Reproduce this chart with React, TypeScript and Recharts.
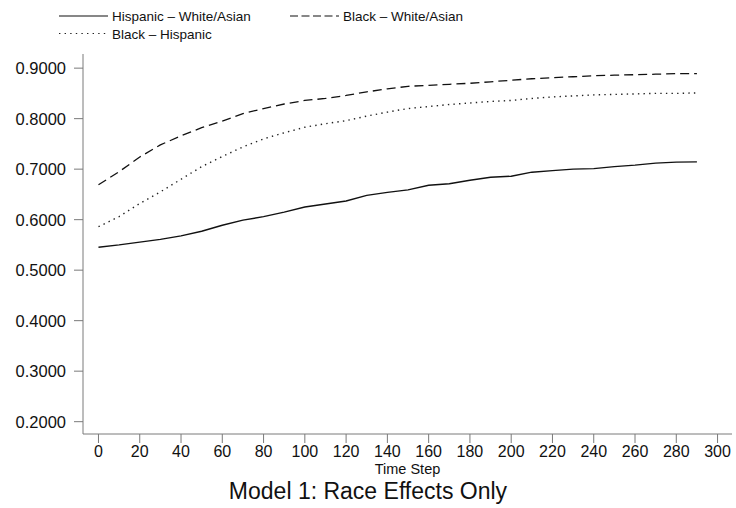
import { CartesianGrid, Line, LineChart, XAxis, YAxis } from "recharts";

const steps = [0, 10, 20, 30, 40, 50, 60, 70, 80, 90, 100, 110, 120, 130, 140, 150, 160, 170, 180, 190, 200, 210, 220, 230, 240, 250, 260, 270, 280, 290];

const hispanicWhiteAsian = [0.5455, 0.55, 0.5555, 0.561, 0.568, 0.577, 0.589, 0.599, 0.606, 0.615, 0.625, 0.631, 0.637, 0.648, 0.654, 0.659, 0.668, 0.671, 0.678, 0.684, 0.686, 0.694, 0.697, 0.7, 0.701, 0.705, 0.708, 0.712, 0.714, 0.7145];
const blackWhiteAsian = [0.669, 0.695, 0.724, 0.748, 0.766, 0.782, 0.795, 0.81, 0.82, 0.829, 0.836, 0.84, 0.846, 0.853, 0.859, 0.864, 0.866, 0.868, 0.87, 0.873, 0.876, 0.879, 0.881, 0.883, 0.885, 0.886, 0.887, 0.888, 0.889, 0.889];
const blackHispanic = [0.586, 0.606, 0.632, 0.655, 0.68, 0.705, 0.725, 0.744, 0.76, 0.772, 0.783, 0.79, 0.796, 0.805, 0.813, 0.82, 0.824, 0.828, 0.831, 0.834, 0.836, 0.84, 0.843, 0.845, 0.847, 0.848, 0.849, 0.85, 0.85, 0.851];

const xTicks = [0, 20, 40, 60, 80, 100, 120, 140, 160, 180, 200, 220, 240, 260, 280, 300];
const yTicks = [0.2, 0.3, 0.4, 0.5, 0.6, 0.7, 0.8, 0.9];

const seriesNames = ["Hispanic – White/Asian", "Black – White/Asian", "Black – Hispanic"];

const data = steps.map((step, i) => ({
  step,
  hwa: hispanicWhiteAsian[i],
  bwa: blackWhiteAsian[i],
  bh: blackHispanic[i],
}));

const font = '"Liberation Sans", Arial, Helvetica, sans-serif';
const axisGray = "#7a7a7a";
const DASH = "9 5";
const DOT = "1.4 4.2";

export default function App() {
  return (
    <div style={{ position: "relative", width: 736, height: 508, fontFamily: font }}>
      <style>{"body { margin: 0; }"}</style>
      <LineChart width={736} height={508} data={data} margin={{ top: 54, right: 4, bottom: 34, left: 0 }}>
        <CartesianGrid stroke="none" />
        <XAxis
          dataKey="step"
          type="number"
          domain={[-7.5, 307]}
          ticks={xTicks}
          interval={0}
          height={40}
          tickSize={9}
          tickMargin={3}
          stroke={axisGray}
          tick={{ fill: "#111", fontSize: 16, fontFamily: font }}
          label={{ value: "Time Step", position: "insideBottom", offset: 0, fill: "#111", fontSize: 14.5, fontFamily: font }}
        />
        <YAxis
          type="number"
          domain={[0.1756, 0.928]}
          ticks={yTicks}
          interval={0}
          width={83}
          tickSize={9}
          tickMargin={8}
          stroke={axisGray}
          tickFormatter={(v: number) => v.toFixed(4)}
          tick={{ fill: "#111", fontSize: 16.5, fontFamily: font }}
        />
        <Line dataKey="hwa" name={seriesNames[0]} stroke="#111" strokeWidth={1.4} dot={false} isAnimationActive={false} />
        <Line dataKey="bwa" name={seriesNames[1]} stroke="#111" strokeWidth={1.3} strokeDasharray={DASH} dot={false} isAnimationActive={false} />
        <Line dataKey="bh" name={seriesNames[2]} stroke="#222" strokeWidth={1.4} strokeDasharray={DOT} dot={false} isAnimationActive={false} />
      </LineChart>

      {/* legend and caption */}
      <svg width={736} height={508} style={{ position: "absolute", left: 0, top: 0, pointerEvents: "none" }}>
        <g fontFamily={font} fontSize={13.5} fill="#111">
          <line x1={59} x2={108} y1={16} y2={16} stroke="#111" strokeWidth={1.2} />
          <text x={112} y={21}>{seriesNames[0]}</text>
          <line x1={290} x2={339} y1={16} y2={16} stroke="#111" strokeWidth={1.2} strokeDasharray="8 3.5" />
          <text x={343} y={21}>{seriesNames[1]}</text>
          <line x1={59} x2={108} y1={33.5} y2={33.5} stroke="#222" strokeWidth={1.2} strokeDasharray={DOT} />
          <text x={112} y={38.5}>{seriesNames[2]}</text>
        </g>
        <text x={368} y={499} textAnchor="middle" fontFamily={font} fontSize={23} fill="#111">
          Model 1: Race Effects Only
        </text>
      </svg>
    </div>
  );
}
